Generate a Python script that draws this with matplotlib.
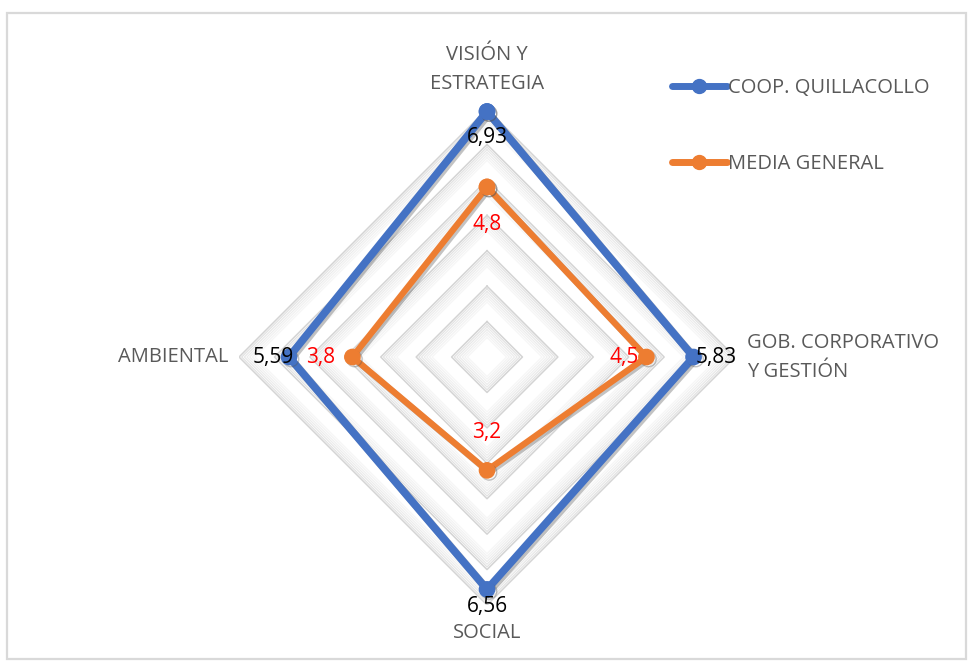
import numpy as np
import matplotlib
matplotlib.use("Agg")
import matplotlib.pyplot as plt
from matplotlib.patches import Rectangle
import matplotlib.patheffects as pe

categories = ["VISIÓN Y\nESTRATEGIA", "GOB. CORPORATIVO\nY GESTIÓN", "SOCIAL", "AMBIENTAL"]
series_names = ["COOP. QUILLACOLLO", "MEDIA GENERAL"]
coop_values = [6.93, 5.83, 6.56, 5.59]
media_values = [4.8, 4.5, 3.2, 3.8]
r_max = 7
grid_levels = [1, 2, 3, 4, 5, 6, 7]

plt.rcParams['font.family'] = ['Open Sans', 'DejaVu Sans']

fig = plt.figure(figsize=(9.72, 6.66), dpi=100)
fig.patch.set_facecolor('white')
fig.add_artist(Rectangle((0.0075, 0.0105), 0.986, 0.9705, transform=fig.transFigure,
                         fill=False, edgecolor='#d9d9d9', lw=1.6))

ax = fig.add_axes([0.2459, 0.0916, 0.5103, 0.7447], projection='polar')
ax.set_theta_offset(np.pi / 2)
ax.set_theta_direction(-1)
ax.set_ylim(0, r_max)
ax.grid(False)
ax.spines['polar'].set_visible(False)
ax.set_xticks([])
ax.set_yticks([])
ax.patch.set_alpha(0)

n = len(categories)
angles = np.linspace(0, 2 * np.pi, n, endpoint=False)
closed_angles = np.concatenate([angles, angles[:1]])

# gridlines with soft shading
shade_cols = ['#e2e2e2', '#e8e8e8', '#ececec', '#f0f0f0', '#f3f3f3', '#f6f6f6']
for k in grid_levels:
    for j, c in enumerate(shade_cols):
        rr = k - (j + 1) * 0.075
        if rr > 0:
            ax.plot(closed_angles, [rr] * (n + 1), color=c, lw=0.9, zorder=1)
    ax.plot(closed_angles, [k] * (n + 1), color='#d4d4d4', lw=1.1, zorder=2)

shadow = [pe.SimpleLineShadow(offset=(1.5, -1.5), shadow_color='#555555', alpha=0.35), pe.Normal()]
coop_closed = coop_values + coop_values[:1]
media_closed = media_values + media_values[:1]
ax.plot(closed_angles, coop_closed, color='#4472C4', lw=5.5, marker='o', ms=11,
        solid_joinstyle='round', solid_capstyle='round', zorder=5, clip_on=False,
        label=series_names[0], path_effects=shadow)
ax.plot(closed_angles, media_closed, color='#ED7D31', lw=4.5, marker='o', ms=11,
        solid_joinstyle='round', solid_capstyle='round', zorder=6, clip_on=False,
        label=series_names[1], path_effects=shadow)

# category labels
lab_kw = dict(color='#595959', fontsize=14.5, linespacing=1.6)
ax.text(angles[0], r_max + 1.12, categories[0], ha='center', va='center', **lab_kw)
ax.text(angles[1], r_max + 0.35, categories[1], ha='left', va='center', **lab_kw)
ax.text(angles[2], r_max + 0.78, categories[2], ha='center', va='center', **lab_kw)
ax.text(angles[3], r_max + 0.3, categories[3], ha='right', va='center', **lab_kw)

# data labels
fs = 15
def lab(ang, r, s, color, dx=0, dy=0, ha='center'):
    ax.annotate(s, xy=(ang, r), xytext=(dx, dy), textcoords='offset pixels',
                ha=ha, va='center', color=color, fontsize=fs, zorder=10,
                annotation_clip=False)

fmt = lambda v: (f"{v:g}").replace('.', ',')
lab(angles[0], coop_values[0], fmt(coop_values[0]), 'black', dy=-26)
lab(angles[1], coop_values[1], fmt(coop_values[1]), 'black', dx=2, ha='left')
lab(angles[2], coop_values[2], fmt(coop_values[2]), 'black', dy=-17)
lab(angles[3], coop_values[3], fmt(coop_values[3]), 'black', dx=-16)
lab(angles[0], media_values[0], fmt(media_values[0]), 'red', dy=-38)
lab(angles[1], media_values[1], fmt(media_values[1]), 'red', dx=-22)
lab(angles[2], media_values[2], fmt(media_values[2]), 'red', dy=38)
lab(angles[3], media_values[3], fmt(media_values[3]), 'red', dx=-32)

leg = fig.legend(loc='upper left', bbox_to_anchor=(0.673, 0.910), frameon=False,
                 labelspacing=2.8, handlelength=2.7, handletextpad=0.05,
                 fontsize=14.5, labelcolor='#595959')
for h in leg.legend_handles:
    h.set_linewidth(5)
    h.set_markersize(10)
    h.set_path_effects([])

fig.savefig('out.png', dpi=100, facecolor='white')
